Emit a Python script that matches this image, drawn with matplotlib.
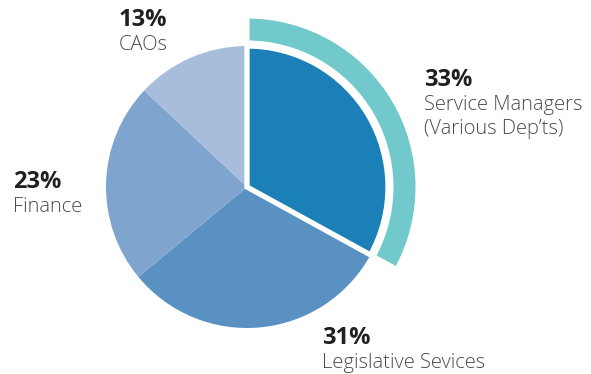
import matplotlib
matplotlib.use("Agg")
import matplotlib.pyplot as plt
from matplotlib.patches import Wedge

# share of staff by department, clockwise from 12 o'clock
labels = ["Service Managers\n(Various Dep\u2019ts)", "Legislative Sevices", "Finance", "CAOs"]
shares = [33, 31, 23, 13]
colors = ["#1b7fb8", "#5a91c3", "#7fa5cf", "#a8bddc"]
ring_color = "#71c9cc"

W, H = 591, 374
CX, CY, R = 247, 187, 141

fig = plt.figure(figsize=(W / 100, H / 100), dpi=100)
ax = fig.add_axes([0, 0, 1, 1])

wedges, _ = ax.pie(shares, colors=colors, startangle=90, counterclock=False,
                   center=(CX, CY), radius=R, frame=True)

# highlighted slice gets a white outline so it stands apart
hi = wedges[0]
hi.set_edgecolor("white")
hi.set_linewidth(3.8)
hi.set_zorder(5)

# outer band around the highlighted slice
theta2 = 90
theta1 = 90 - 360 * shares[0] / sum(shares)
ring = Wedge((CX, CY), 171, theta1, theta2, width=27,
             facecolor=ring_color, edgecolor="white", linewidth=3.6, zorder=4)
ax.add_patch(ring)

ax.set_xlim(0, W)
ax.set_ylim(0, H)
ax.set_aspect("equal")
ax.axis("off")

fam = ["Open Sans", "DejaVu Sans"]
# left x and baseline of the percentage, in pixels from the top-left
label_pos = [(424, 86), (322, 344), (13, 188), (119, 26)]
for (x, y), lab, val in zip(label_pos, labels, shares):
    ax.text(x, H - y, f"{val}%", fontsize=17, fontweight="bold", color="#231f20",
            family=fam, va="baseline", ha="left")
    for i, line in enumerate(lab.split("\n")):
        ax.text(x, H - y - 24 * (i + 1), line, fontsize=14.5, fontweight="light",
                color="#4a4a4a", family=fam, va="baseline", ha="left")

fig.savefig("out.png", dpi=100)
